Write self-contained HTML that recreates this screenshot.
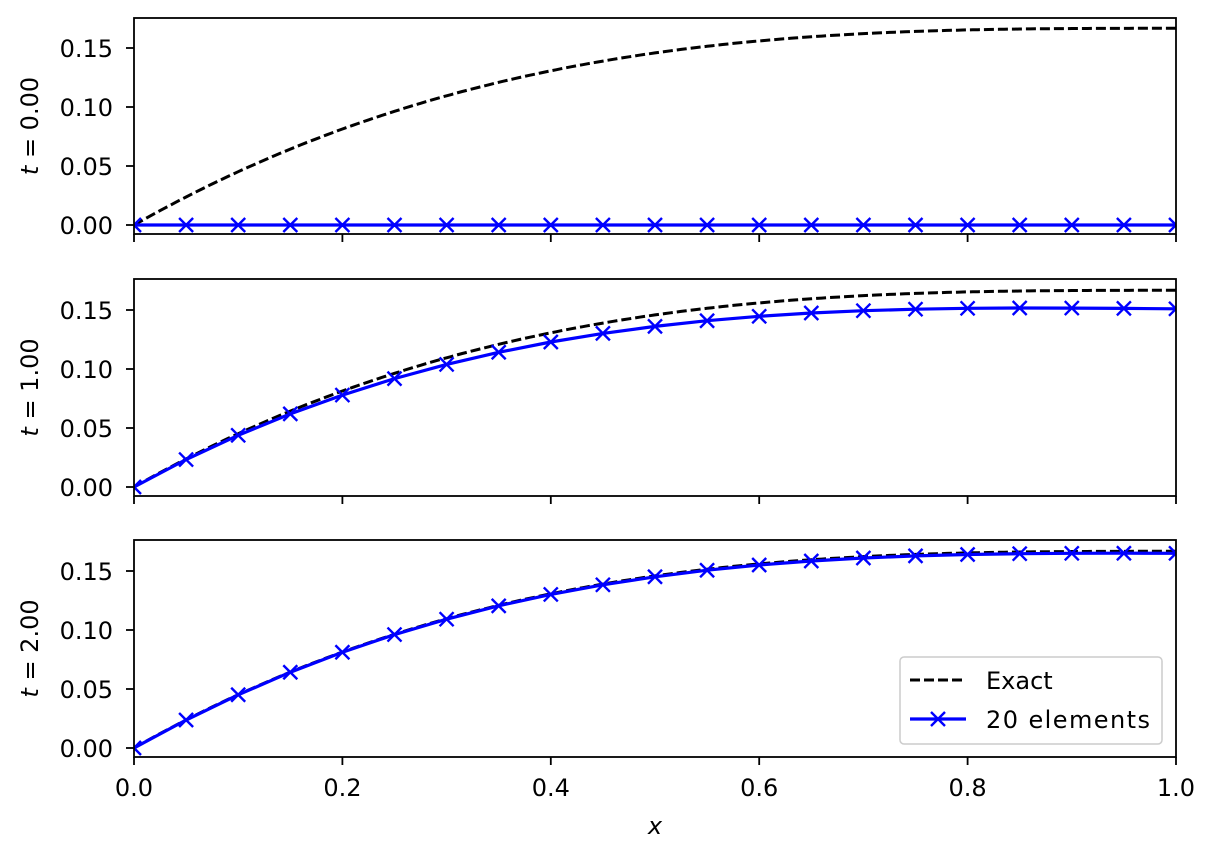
<!DOCTYPE html><html><head><style>body{margin:0;background:#fff}</style></head><body>
<svg id="s" width="1216" height="858" xmlns="http://www.w3.org/2000/svg" font-family="DejaVu Sans, Liberation Sans, sans-serif" font-size="24"></svg>
<script>
const S=document.getElementById('s');let h='';
const X0=134,X1=1176,sc=1180;
const ex=x=>(1-Math.pow(1-x,3))/6;
const panels=[{top:18,bot:234,z:225,f:x=>0,lab:'0.00'},{top:279,bot:496,z:487,f:x=>ex(x)*(1-0.094*Math.sqrt(x)),lab:'1.00'},{top:540,bot:757,z:748,f:x=>ex(x)*(1-0.01*x),lab:'2.00'}];
const px=x=>X0+x*(X1-X0);
panels.forEach((p,i)=>{
 const py=v=>p.z-v*sc;
 h+=`<defs><clipPath id="c${i}"><rect x="${X0}" y="${p.top}" width="${X1-X0}" height="${p.bot-p.top}"/></clipPath></defs>`;
 let d='';for(let k=0;k<=200;k++){const x=k/200;d+=(k?'L':'M')+px(x).toFixed(1)+','+py(ex(x)).toFixed(1);}
 h+=`<g clip-path="url(#c${i})"><path d="${d}" fill="none" stroke="#000" stroke-width="3" stroke-dasharray="10,4"/>`;
 let n='',m='';for(let k=0;k<=20;k++){const x=k/20,X=px(x),Y=py(p.f(x));n+=(k?'L':'M')+X.toFixed(1)+','+Y.toFixed(1);m+=`M${X-7},${Y-7}L${X+7},${Y+7}M${X-7},${Y+7}L${X+7},${Y-7}`;}
 h+=`<path d="${n}" fill="none" stroke="#00f" stroke-width="3.2"/><path d="${m}" stroke="#00f" stroke-width="2.4"/></g>`;
 h+=`<rect x="${X0}" y="${p.top}" width="${X1-X0}" height="${p.bot-p.top}" fill="none" stroke="#000" stroke-width="1.8"/>`;
 for(let j=0;j<=3;j++){const v=j*0.05,Y=py(v);h+=`<line x1="${X0-8}" x2="${X0}" y1="${Y}" y2="${Y}" stroke="#000" stroke-width="1.8"/><text x="${X0-21}" y="${Y+9}" text-anchor="end">${v.toFixed(2)}</text>`;}
 for(let j=0;j<=5;j++){const X=px(j/5);h+=`<line x1="${X}" x2="${X}" y1="${p.bot}" y2="${p.bot+8}" stroke="#000" stroke-width="1.8"/>`;if(i==2)h+=`<text x="${X}" y="${p.bot+39}" text-anchor="middle">${(j/5).toFixed(1)}</text>`;}
 const cy=(p.top+p.bot)/2;
 h+=`<text transform="translate(38,${cy}) rotate(-90)" text-anchor="middle"><tspan font-style="italic">t</tspan> = ${p.lab}</text>`;
});
h+=`<text x="655" y="834" text-anchor="middle" font-style="italic">x</text>`;
h+=`<rect x="900" y="657" width="262" height="87" rx="4" fill="#fff" fill-opacity="0.8" stroke="#ccc" stroke-width="1.5"/>`;
h+=`<line x1="910" x2="966" y1="680" y2="680" stroke="#000" stroke-width="3" stroke-dasharray="10,4"/><text x="986" y="689">Exact</text>`;
h+=`<line x1="910" x2="966" y1="719" y2="719" stroke="#00f" stroke-width="3.2"/><path d="M931,712L945,726M931,726L945,712" stroke="#00f" stroke-width="2.4"/><text x="986" y="728" textLength="164">20 elements</text>`;
S.innerHTML=h;
</script></body></html>
